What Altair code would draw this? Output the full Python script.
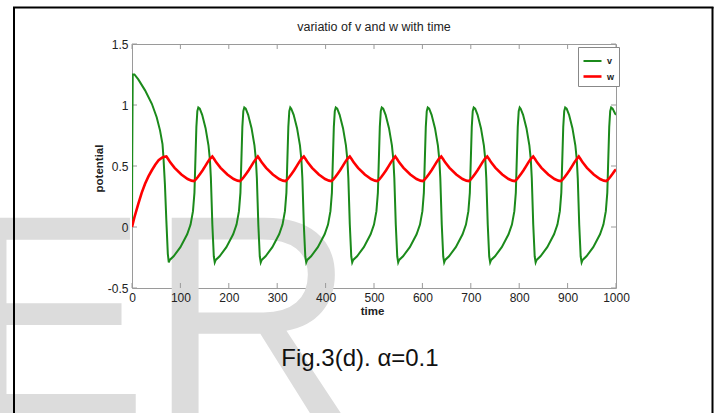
import altair as alt
import pandas as pd

# ---------------- data ----------------
v_time = [0, 0.5, 1.5, 5, 13, 27, 41, 51, 58, 63, 65, 68, 71, 74,
          76, 78, 86, 100, 114, 121, 126, 129, 131, 133, 135, 137, 140, 145, 152, 158, 161, 163, 166, 169,
          171, 173, 181, 195, 209, 216, 221, 224, 226, 228, 230, 232, 235, 240, 247, 253, 256, 258, 261, 264,
          266, 268, 276, 290, 304, 311, 316, 319, 321, 323, 325, 327, 329, 334, 341, 347, 350, 352, 355, 358,
          360, 362, 370, 384, 398, 405, 410, 413, 415, 417, 419, 421, 424, 429, 436, 442, 445, 447, 450, 453,
          455, 457, 465, 479, 493, 500, 505, 508, 510, 512, 514, 516, 519, 524, 531, 537, 540, 542, 545, 548,
          550, 552, 560, 574, 588, 595, 600, 603, 605, 607, 609, 611, 614, 619, 626, 632, 635, 637, 640, 643,
          645, 647, 655, 669, 683, 690, 695, 698, 700, 702, 704, 706, 709, 714, 721, 727, 730, 732, 735, 738,
          740, 742, 750, 764, 778, 785, 790, 793, 795, 797, 799, 801, 803, 808, 815, 821, 824, 826, 829, 832,
          834, 836, 844, 858, 872, 879, 884, 887, 889, 891, 893, 895, 898, 903, 910, 916, 919, 921, 924, 927,
          929, 931, 939, 953, 967, 974, 979, 982, 984, 986, 988, 990, 993, 998, 1000]
v_value = [0, 0.6, 1.25, 1.25, 1.21, 1.12, 1.01, 0.90, 0.79, 0.68, 0.57, 0.35, 0.05, -0.22,
           -0.29, -0.27, -0.24, -0.165, -0.06, 0.02, 0.13, 0.28, 0.55, 0.82, 0.95, 0.98, 0.97, 0.92, 0.81, 0.67, 0.55, 0.40, 0.02, -0.24,
           -0.29, -0.27, -0.24, -0.165, -0.06, 0.02, 0.13, 0.28, 0.55, 0.82, 0.95, 0.98, 0.97, 0.92, 0.81, 0.67, 0.55, 0.40, 0.02, -0.24,
           -0.29, -0.27, -0.24, -0.165, -0.06, 0.02, 0.13, 0.28, 0.55, 0.82, 0.95, 0.98, 0.97, 0.92, 0.81, 0.67, 0.55, 0.40, 0.02, -0.24,
           -0.29, -0.27, -0.24, -0.165, -0.06, 0.02, 0.13, 0.28, 0.55, 0.82, 0.95, 0.98, 0.97, 0.92, 0.81, 0.67, 0.55, 0.40, 0.02, -0.24,
           -0.29, -0.27, -0.24, -0.165, -0.06, 0.02, 0.13, 0.28, 0.55, 0.82, 0.95, 0.98, 0.97, 0.92, 0.81, 0.67, 0.55, 0.40, 0.02, -0.24,
           -0.29, -0.27, -0.24, -0.165, -0.06, 0.02, 0.13, 0.28, 0.55, 0.82, 0.95, 0.98, 0.97, 0.92, 0.81, 0.67, 0.55, 0.40, 0.02, -0.24,
           -0.29, -0.27, -0.24, -0.165, -0.06, 0.02, 0.13, 0.28, 0.55, 0.82, 0.95, 0.98, 0.97, 0.92, 0.81, 0.67, 0.55, 0.40, 0.02, -0.24,
           -0.29, -0.27, -0.24, -0.165, -0.06, 0.02, 0.13, 0.28, 0.55, 0.82, 0.95, 0.98, 0.97, 0.92, 0.81, 0.67, 0.55, 0.40, 0.02, -0.24,
           -0.29, -0.27, -0.24, -0.165, -0.06, 0.02, 0.13, 0.28, 0.55, 0.82, 0.95, 0.98, 0.97, 0.92, 0.81, 0.67, 0.55, 0.40, 0.02, -0.24,
           -0.29, -0.27, -0.24, -0.165, -0.06, 0.02, 0.13, 0.28, 0.55, 0.82, 0.95, 0.98, 0.97, 0.93, 0.92]

w_time = [0, 5, 13, 20, 27, 34, 41, 48, 55, 62, 67,
          71, 75, 79, 88, 102, 115, 123, 128, 132, 136, 141, 146, 151, 156, 161,
          166, 170, 174, 183, 197, 210, 218, 223, 227, 231, 236, 241, 246, 251, 256,
          260, 264, 268, 277, 291, 304, 312, 317, 321, 325, 330, 335, 340, 345, 350,
          355, 359, 363, 372, 386, 399, 407, 412, 416, 420, 425, 430, 435, 440, 445,
          450, 454, 458, 467, 481, 494, 502, 507, 511, 515, 520, 525, 530, 535, 540,
          544, 548, 552, 561, 575, 588, 596, 601, 605, 609, 614, 619, 624, 629, 634,
          639, 643, 647, 656, 670, 683, 691, 696, 700, 704, 709, 714, 719, 724, 729,
          734, 738, 742, 751, 765, 778, 786, 791, 795, 799, 804, 809, 814, 819, 824,
          829, 833, 837, 846, 860, 873, 881, 886, 890, 894, 899, 904, 909, 914, 919,
          923, 927, 931, 940, 954, 967, 975, 980, 984, 988, 993, 998, 1000]
w_value = [0, 0.08, 0.19, 0.28, 0.355, 0.415, 0.465, 0.51, 0.547, 0.568, 0.576,
           0.578, 0.555, 0.53, 0.485, 0.43, 0.393, 0.38, 0.377, 0.39, 0.41, 0.437, 0.465, 0.497, 0.53, 0.558,
           0.578, 0.555, 0.53, 0.485, 0.43, 0.393, 0.38, 0.377, 0.39, 0.41, 0.437, 0.465, 0.497, 0.53, 0.558,
           0.578, 0.555, 0.53, 0.485, 0.43, 0.393, 0.38, 0.377, 0.39, 0.41, 0.437, 0.465, 0.497, 0.53, 0.558,
           0.578, 0.555, 0.53, 0.485, 0.43, 0.393, 0.38, 0.377, 0.39, 0.41, 0.437, 0.465, 0.497, 0.53, 0.558,
           0.578, 0.555, 0.53, 0.485, 0.43, 0.393, 0.38, 0.377, 0.39, 0.41, 0.437, 0.465, 0.497, 0.53, 0.558,
           0.578, 0.555, 0.53, 0.485, 0.43, 0.393, 0.38, 0.377, 0.39, 0.41, 0.437, 0.465, 0.497, 0.53, 0.558,
           0.578, 0.555, 0.53, 0.485, 0.43, 0.393, 0.38, 0.377, 0.39, 0.41, 0.437, 0.465, 0.497, 0.53, 0.558,
           0.578, 0.555, 0.53, 0.485, 0.43, 0.393, 0.38, 0.377, 0.39, 0.41, 0.437, 0.465, 0.497, 0.53, 0.558,
           0.578, 0.555, 0.53, 0.485, 0.43, 0.393, 0.38, 0.377, 0.39, 0.41, 0.437, 0.465, 0.497, 0.53, 0.558,
           0.578, 0.555, 0.53, 0.485, 0.43, 0.393, 0.38, 0.377, 0.39, 0.41, 0.437, 0.465, 0.47]

x_ticks = [0, 100, 200, 300, 400, 500, 600, 700, 800, 900, 1000]
y_ticks = [-0.5, 0, 0.5, 1, 1.5]
series_names = ["v", "w"]
series_colors = ["#1b8a1b", "#ff0000"]
series_widths = [2.0, 2.6]

title_text = "variatio of v and w with time"
x_title = "time"
y_title = "potential"
caption_text = "Fig.3(d). α=0.1"
watermark_text = "ER"

# ---------------- build tables ----------------
rows = []
for i, (t, val) in enumerate(zip(v_time, v_value)):
    rows.append({"time": t, "value": val, "series": "v", "idx": i})
for i, (t, val) in enumerate(zip(w_time, w_value)):
    rows.append({"time": t, "value": val, "series": "w", "idx": i})
df = pd.DataFrame(rows)

W, H = 484, 244
FONT = "Liberation Sans"
AX = "#9a9a9a"

xs = alt.Scale(domain=[0, 1000], nice=False, zero=False)
ys = alt.Scale(domain=[-0.5, 1.5], nice=False, zero=False)

x_axis = alt.Axis(values=x_ticks, ticks=False, domain=False, grid=False, zindex=2,
                  labelExpr="'' + datum.value",
                  labelFont=FONT, labelFontSize=12, labelColor="#222",
                  labelPadding=4, labelFlush=False, labelOverlap=False,
                  title=x_title, titleFont=FONT, titleFontSize=11.5,
                  titleFontWeight="bold", titleColor="#222",
                  titleX=W / 2 - 2, titleY=23, titleBaseline="middle")
y_axis = alt.Axis(values=y_ticks, ticks=False, domain=False, grid=False, zindex=2,
                  labelExpr="'' + datum.value",
                  labelFont=FONT, labelFontSize=12, labelColor="#222",
                  labelPadding=4, labelFlush=False, labelOverlap=False,
                  title=y_title, titleFont=FONT, titleFontSize=11.5,
                  titleFontWeight="bold", titleColor="#222",
                  titleX=-33, titleY=H / 2 + 2, titleAngle=-90,
                  titleBaseline="middle", titleAlign="center")

lines = alt.Chart(df).mark_line(clip=True).encode(
    x=alt.X("time:Q", scale=xs, axis=x_axis),
    y=alt.Y("value:Q", scale=ys, axis=y_axis),
    color=alt.Color("series:N", scale=alt.Scale(domain=series_names, range=series_colors),
                    legend=alt.Legend(title=None, orient="none", legendX=446, legendY=3,
                                      direction="vertical", fillColor="white",
                                      strokeColor="#888", padding=4, rowPadding=0,
                                      symbolType="stroke", symbolSize=324,
                                      symbolStrokeWidth=2.5, labelFont=FONT,
                                      labelFontSize=9, labelFontWeight="bold",
                                      labelColor="#222", labelOffset=4)),
    strokeWidth=alt.StrokeWidth("series:N",
                                scale=alt.Scale(domain=series_names, range=series_widths),
                                legend=None),
    order="idx:Q",
)

xt = pd.DataFrame({"time": x_ticks})
yt = pd.DataFrame({"value": y_ticks})
tick_bottom = alt.Chart(xt).mark_rule(color=AX, strokeWidth=1).encode(
    x=alt.X("time:Q", scale=xs, axis=x_axis), y=alt.value(H), y2=alt.value(H - 5))
tick_top = alt.Chart(xt).mark_rule(color=AX, strokeWidth=1).encode(
    x=alt.X("time:Q", scale=xs, axis=x_axis), y=alt.value(0), y2=alt.value(5))
tick_left = alt.Chart(yt).mark_rule(color=AX, strokeWidth=1).encode(
    y=alt.Y("value:Q", scale=ys, axis=y_axis), x=alt.value(0), x2=alt.value(5))
tick_right = alt.Chart(yt).mark_rule(color=AX, strokeWidth=1).encode(
    y=alt.Y("value:Q", scale=ys, axis=y_axis), x=alt.value(W), x2=alt.value(W - 5))

watermark = alt.Chart(pd.DataFrame({"label": [watermark_text]})).mark_text(
    font=FONT, fontSize=288, color="#dcdcdc", align="left", baseline="alphabetic"
).encode(x=alt.value(-176), y=alt.value(372), text="label:N")

caption = alt.Chart(pd.DataFrame({"label": [caption_text]})).mark_text(
    font=FONT, fontSize=24, color="#111", align="center", baseline="alphabetic"
).encode(x=alt.value(228), y=alt.value(322), text="label:N")

title = alt.Chart(pd.DataFrame({"label": [title_text]})).mark_text(
    font=FONT, fontSize=12.5, color="#222", align="center", baseline="middle"
).encode(x=alt.value(W / 2), y=alt.value(-17), text="label:N")

border_left = alt.Chart(pd.DataFrame({"a": [0]})).mark_rule(color="black", strokeWidth=2).encode(
    x=alt.value(-118), y=alt.value(-37), y2=alt.value(400))
border_top = alt.Chart(pd.DataFrame({"a": [0]})).mark_rule(color="black", strokeWidth=2).encode(
    x=alt.value(-119), x2=alt.value(581.5), y=alt.value(-36.5))
border_right = alt.Chart(pd.DataFrame({"a": [0]})).mark_rule(color="black", strokeWidth=2).encode(
    x=alt.value(580.5), y=alt.value(-37), y2=alt.value(400))

chart = alt.layer(
    watermark, caption, border_left, border_top, border_right,
    tick_bottom, tick_top, tick_left, tick_right, lines, title
).properties(
    width=W, height=H,
    autosize=alt.AutoSizeParams(type="none"),
    padding={"left": 132, "top": 44, "right": 98, "bottom": 125},
    background="white",
).configure_view(stroke=AX, strokeWidth=1)

chart.save("out.html", embed_options={"renderer": "svg", "actions": False})
